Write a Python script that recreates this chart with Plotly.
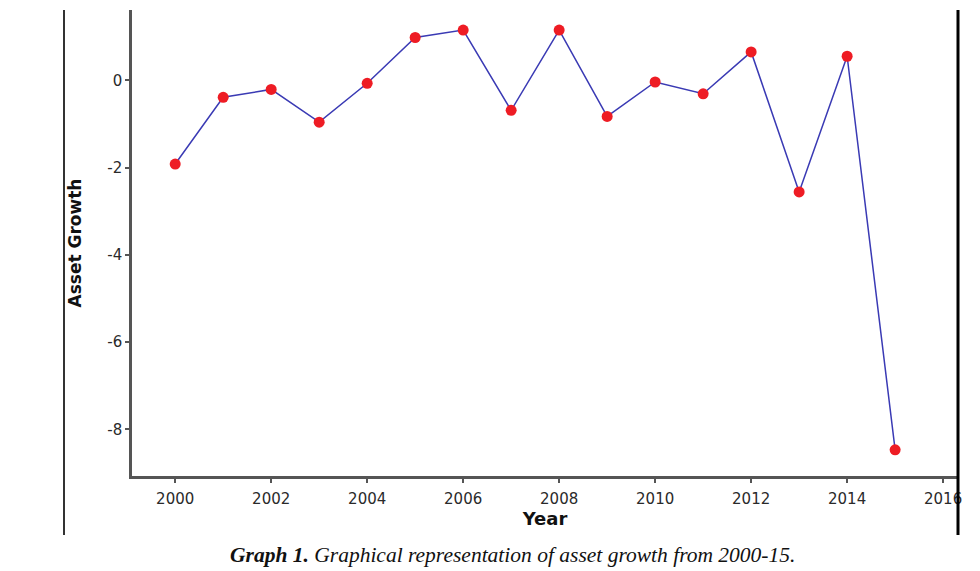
import plotly.graph_objects as go

years = list(range(2000, 2016))
asset_growth = [-1.92, -0.39, -0.21, -0.96, -0.07, 0.98, 1.15, -0.69,
                1.15, -0.83, -0.04, -0.31, 0.65, -2.56, 0.55, -8.47]
x_ticks = list(range(2000, 2017, 2))
y_ticks = [-8, -6, -4, -2, 0]
y_tick_labels = ["-8", "-6", "-4", "-2", "0"]

# page body has an 8px margin; figure is sized so the plot lands where the reference has it
W, H = 972, 563
L, R, T, B = 124, 950, 2, 468   # plot area in figure pixels
pw, ph = R - L, B - T

def px(x):
    return (x - L) / pw

def py(y):
    return (B - y) / ph

fig = go.Figure()
fig.add_trace(go.Scatter(
    x=years, y=asset_growth, mode="lines+markers",
    line=dict(color="#3a3ab4", width=1.5),
    marker=dict(color="#ee1c24", size=11),
    showlegend=False,
))

tick_font = dict(family="DejaVu Sans", size=15, color="#2a2a2a")
fig.update_layout(
    width=W, height=H,
    margin=dict(l=L, r=W - R, t=T, b=H - B),
    paper_bgcolor="white", plot_bgcolor="white",
    xaxis=dict(
        range=[1999.1, 2016.31], tickvals=x_ticks, ticks="outside", ticklen=4,
        tickcolor="#555", tickwidth=1.5, ticklabelstandoff=3,
        showline=True, linecolor="#555", linewidth=2.5, showgrid=False,
        zeroline=False, tickfont=tick_font,
        title=dict(text="<b>Year</b>", font=dict(family="DejaVu Sans", size=18, color="#111"), standoff=5),
    ),
    yaxis=dict(
        range=[-9.07, 1.61], tickvals=y_ticks, ticktext=y_tick_labels,
        ticks="outside", ticklen=4,
        tickcolor="#555", tickwidth=1.5,
        showline=True, linecolor="#555", linewidth=2.5, showgrid=False,
        zeroline=False, tickfont=tick_font,
        title=dict(text="<b>Asset Growth</b>", font=dict(family="DejaVu Sans", size=17, color="#111"), standoff=22),
    ),
    shapes=[
        dict(type="line", xref="paper", yref="paper", x0=px(56), x1=px(56),
             y0=py(527), y1=py(2), line=dict(color="#333", width=2), layer="above"),
        dict(type="line", xref="paper", yref="paper", x0=px(950), x1=px(950),
             y0=py(527), y1=py(2), line=dict(color="#000", width=3), layer="above"),
    ],
    annotations=[
        dict(text="<b><i>Graph 1.</i></b><i> Graphical representation of asset growth from 2000-15.</i>",
             xref="paper", yref="paper", x=px(504), y=py(547),
             xanchor="center", yanchor="middle", showarrow=False,
             font=dict(family="Liberation Serif", size=21.5, color="#111")),
    ],
)

fig.write_html("out.html")
